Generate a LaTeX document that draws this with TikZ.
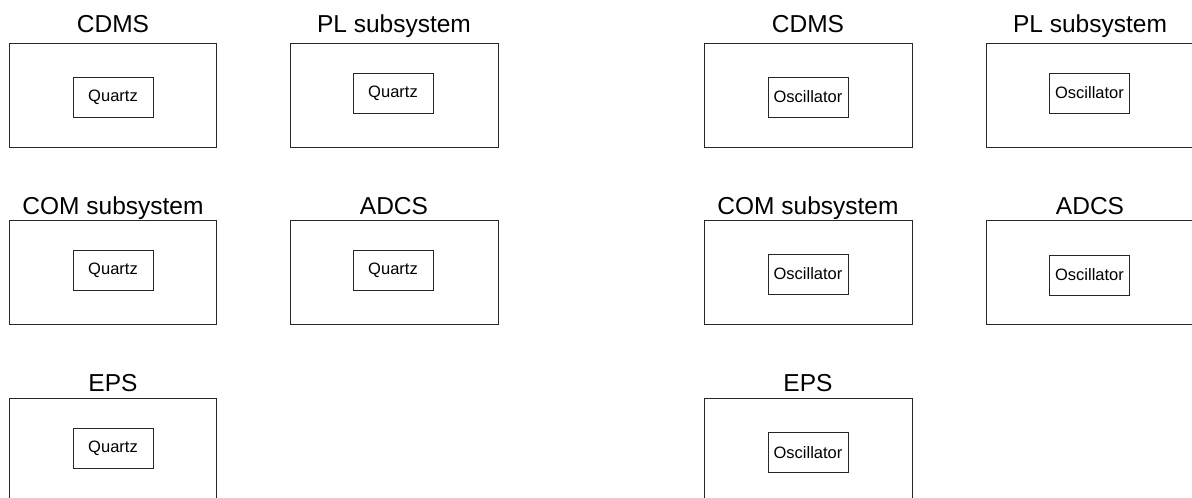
\documentclass[tikz,border=0pt]{standalone}
\usepackage{fontspec}
\setmainfont{Liberation Sans}
\begin{document}
\begin{tikzpicture}[x=1pt, y=-1pt, line width=0.8pt,
                    unit/.style = {draw=black!85, minimum width=207pt, minimum height=104pt, inner sep=0pt},
                    part/.style = {draw=black!85, minimum width=80pt, minimum height=40pt, inner sep=0pt, font=\fontsize{16.5}{18}\selectfont},
                    title/.style = {anchor=base, inner sep=0pt, font=\fontsize{24.5}{28}\selectfont}]
                  \useasboundingbox (0,0) rectangle (1192,498);
                  \clip (0,0) rectangle (1192,498);
                  % quartz side
                  \node[unit](cdms1) at (113,95) {};
                  \node[part](q1) at (113,97) {Quartz};
                  \node[title](tcdms1) at (113,32) {CDMS};
                  \node[unit, minimum width=208pt](pl1) at (394,95) {};
                  \node[part](q2) at (393,93) {Quartz};
                  \node[title](tpl1) at (394,32) {PL subsystem};
                  \node[unit](com1) at (113,272.5) {};
                  \node[part](q3) at (113,270) {Quartz};
                  \node[title](tcom1) at (113,214) {COM subsystem};
                  \node[unit, minimum width=208pt](adcs1) at (394,272.5) {};
                  \node[part](q4) at (393,270) {Quartz};
                  \node[title](tadcs1) at (394,214) {ADCS};
                  \node[unit](eps1) at (113,450) {};
                  \node[part](q5) at (113,448) {Quartz};
                  \node[title](teps1) at (113,391) {EPS};
                  % oscillator side
                  \node[unit, minimum width=208pt](cdms2) at (808,95) {};
                  \node[part](o1) at (808,97) {Oscillator};
                  \node[title](tcdms2) at (808,32) {CDMS};
                  \node[unit, minimum width=208pt](pl2) at (1090,95) {};
                  \node[part](o2) at (1089.5,93) {Oscillator};
                  \node[title](tpl2) at (1090,32) {PL subsystem};
                  \node[unit, minimum width=208pt](com2) at (808,272.5) {};
                  \node[part](o3) at (808,274) {Oscillator};
                  \node[title](tcom2) at (808,214) {COM subsystem};
                  \node[unit, minimum width=208pt](adcs2) at (1090,272.5) {};
                  \node[part](o4) at (1089.5,275) {Oscillator};
                  \node[title](tadcs2) at (1090,214) {ADCS};
                  \node[unit, minimum width=208pt](eps2) at (808,450) {};
                  \node[part](o5) at (808,452.5) {Oscillator};
                  \node[title](teps2) at (808,391) {EPS};

          \end{tikzpicture}
\end{document}
